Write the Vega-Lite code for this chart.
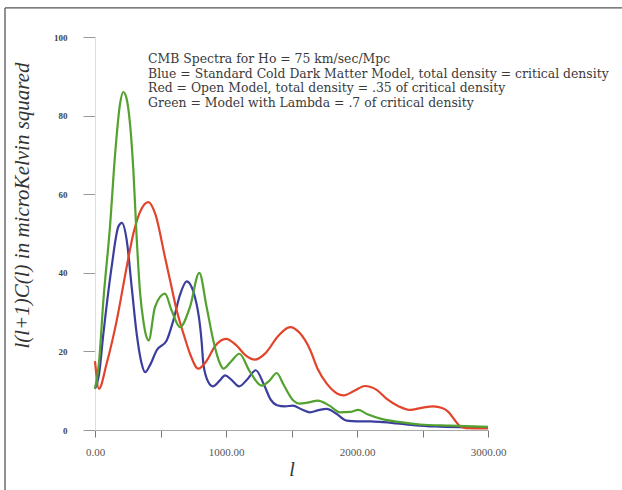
{
  "$schema": "https://vega.github.io/schema/vega-lite/v6.json",
  "width": 393,
  "height": 393,
  "autosize": {"type": "none"},
  "padding": {"left": 95, "top": 37, "right": 134, "bottom": 60},
  "background": "white",
  "config": {"view": {"stroke": null}, "font": "Liberation Serif"},
  "datasets": {
    "spectra": [
      {"l": 0, "v": 10.5, "model": "Blue"},
      {"l": 30, "v": 14, "model": "Blue"},
      {"l": 64, "v": 24.5, "model": "Blue"},
      {"l": 127, "v": 41.5, "model": "Blue"},
      {"l": 178, "v": 51.7, "model": "Blue"},
      {"l": 205, "v": 52.7, "model": "Blue"},
      {"l": 242, "v": 48.3, "model": "Blue"},
      {"l": 280, "v": 36.4, "model": "Blue"},
      {"l": 318, "v": 24.5, "model": "Blue"},
      {"l": 356, "v": 16.9, "model": "Blue"},
      {"l": 382, "v": 14.7, "model": "Blue"},
      {"l": 420, "v": 16.5, "model": "Blue"},
      {"l": 471, "v": 20.3, "model": "Blue"},
      {"l": 547, "v": 22.8, "model": "Blue"},
      {"l": 598, "v": 27.9, "model": "Blue"},
      {"l": 650, "v": 34.5, "model": "Blue"},
      {"l": 700, "v": 37.8, "model": "Blue"},
      {"l": 763, "v": 33.8, "model": "Blue"},
      {"l": 800, "v": 27, "model": "Blue"},
      {"l": 814, "v": 22.5, "model": "Blue"},
      {"l": 827, "v": 16.9, "model": "Blue"},
      {"l": 865, "v": 12.2, "model": "Blue"},
      {"l": 900, "v": 11.1, "model": "Blue"},
      {"l": 950, "v": 12.5, "model": "Blue"},
      {"l": 993, "v": 13.9, "model": "Blue"},
      {"l": 1040, "v": 12.8, "model": "Blue"},
      {"l": 1100, "v": 11.1, "model": "Blue"},
      {"l": 1160, "v": 12.8, "model": "Blue"},
      {"l": 1228, "v": 15.2, "model": "Blue"},
      {"l": 1290, "v": 11.5, "model": "Blue"},
      {"l": 1340, "v": 7.8, "model": "Blue"},
      {"l": 1390, "v": 6.3, "model": "Blue"},
      {"l": 1450, "v": 6, "model": "Blue"},
      {"l": 1510, "v": 6.2, "model": "Blue"},
      {"l": 1580, "v": 5.2, "model": "Blue"},
      {"l": 1641, "v": 4.5, "model": "Blue"},
      {"l": 1700, "v": 5, "model": "Blue"},
      {"l": 1769, "v": 5.4, "model": "Blue"},
      {"l": 1840, "v": 4.2, "model": "Blue"},
      {"l": 1921, "v": 2.4, "model": "Blue"},
      {"l": 2000, "v": 2.2, "model": "Blue"},
      {"l": 2100, "v": 2.2, "model": "Blue"},
      {"l": 2200, "v": 2.0, "model": "Blue"},
      {"l": 2300, "v": 1.7, "model": "Blue"},
      {"l": 2450, "v": 1.2, "model": "Blue"},
      {"l": 2600, "v": 0.9, "model": "Blue"},
      {"l": 2800, "v": 0.7, "model": "Blue"},
      {"l": 3000, "v": 0.6, "model": "Blue"},

      {"l": 0, "v": 17.5, "model": "Red"},
      {"l": 30, "v": 10.5, "model": "Red"},
      {"l": 89, "v": 16.9, "model": "Red"},
      {"l": 166, "v": 27.9, "model": "Red"},
      {"l": 242, "v": 41.5, "model": "Red"},
      {"l": 293, "v": 50, "model": "Red"},
      {"l": 344, "v": 55.5, "model": "Red"},
      {"l": 407, "v": 58, "model": "Red"},
      {"l": 460, "v": 55, "model": "Red"},
      {"l": 534, "v": 44, "model": "Red"},
      {"l": 580, "v": 37, "model": "Red"},
      {"l": 624, "v": 30.4, "model": "Red"},
      {"l": 680, "v": 24, "model": "Red"},
      {"l": 725, "v": 19.4, "model": "Red"},
      {"l": 789, "v": 15.6, "model": "Red"},
      {"l": 850, "v": 17.5, "model": "Red"},
      {"l": 920, "v": 21.5, "model": "Red"},
      {"l": 1000, "v": 23.2, "model": "Red"},
      {"l": 1080, "v": 21.5, "model": "Red"},
      {"l": 1150, "v": 19, "model": "Red"},
      {"l": 1221, "v": 17.9, "model": "Red"},
      {"l": 1300, "v": 19.5, "model": "Red"},
      {"l": 1400, "v": 24, "model": "Red"},
      {"l": 1489, "v": 26.2, "model": "Red"},
      {"l": 1560, "v": 24.8, "model": "Red"},
      {"l": 1641, "v": 20.5, "model": "Red"},
      {"l": 1700, "v": 15.5, "model": "Red"},
      {"l": 1769, "v": 11.8, "model": "Red"},
      {"l": 1830, "v": 9.7, "model": "Red"},
      {"l": 1896, "v": 8.8, "model": "Red"},
      {"l": 1980, "v": 10, "model": "Red"},
      {"l": 2060, "v": 11.2, "model": "Red"},
      {"l": 2150, "v": 10.2, "model": "Red"},
      {"l": 2227, "v": 7.9, "model": "Red"},
      {"l": 2320, "v": 6, "model": "Red"},
      {"l": 2405, "v": 5.1, "model": "Red"},
      {"l": 2500, "v": 5.7, "model": "Red"},
      {"l": 2583, "v": 6, "model": "Red"},
      {"l": 2650, "v": 5.6, "model": "Red"},
      {"l": 2700, "v": 4.5, "model": "Red"},
      {"l": 2740, "v": 2.8, "model": "Red"},
      {"l": 2786, "v": 1, "model": "Red"},
      {"l": 2830, "v": 0.5, "model": "Red"},
      {"l": 3000, "v": 0.4, "model": "Red"},

      {"l": 0, "v": 10.5, "model": "Green"},
      {"l": 30, "v": 17, "model": "Green"},
      {"l": 64, "v": 33, "model": "Green"},
      {"l": 115, "v": 52, "model": "Green"},
      {"l": 153, "v": 70, "model": "Green"},
      {"l": 191, "v": 83, "model": "Green"},
      {"l": 216, "v": 86, "model": "Green"},
      {"l": 240, "v": 84.5, "model": "Green"},
      {"l": 267, "v": 78, "model": "Green"},
      {"l": 293, "v": 66, "model": "Green"},
      {"l": 318, "v": 49, "model": "Green"},
      {"l": 344, "v": 35, "model": "Green"},
      {"l": 370, "v": 27.5, "model": "Green"},
      {"l": 395, "v": 23.5, "model": "Green"},
      {"l": 410, "v": 22.8, "model": "Green"},
      {"l": 458, "v": 31.3, "model": "Green"},
      {"l": 534, "v": 34.7, "model": "Green"},
      {"l": 585, "v": 30.4, "model": "Green"},
      {"l": 649, "v": 26.2, "model": "Green"},
      {"l": 725, "v": 31.3, "model": "Green"},
      {"l": 796, "v": 40, "model": "Green"},
      {"l": 852, "v": 31.3, "model": "Green"},
      {"l": 903, "v": 22.8, "model": "Green"},
      {"l": 954, "v": 16.9, "model": "Green"},
      {"l": 980, "v": 15.6, "model": "Green"},
      {"l": 1040, "v": 17.5, "model": "Green"},
      {"l": 1102, "v": 19.4, "model": "Green"},
      {"l": 1180, "v": 15, "model": "Green"},
      {"l": 1272, "v": 11.3, "model": "Green"},
      {"l": 1330, "v": 12.5, "model": "Green"},
      {"l": 1387, "v": 14.5, "model": "Green"},
      {"l": 1440, "v": 11.5, "model": "Green"},
      {"l": 1514, "v": 7.5, "model": "Green"},
      {"l": 1560, "v": 6.7, "model": "Green"},
      {"l": 1641, "v": 7.1, "model": "Green"},
      {"l": 1700, "v": 7.5, "model": "Green"},
      {"l": 1790, "v": 6.2, "model": "Green"},
      {"l": 1870, "v": 4.5, "model": "Green"},
      {"l": 1947, "v": 4.6, "model": "Green"},
      {"l": 2010, "v": 5.1, "model": "Green"},
      {"l": 2080, "v": 4, "model": "Green"},
      {"l": 2200, "v": 2.7, "model": "Green"},
      {"l": 2330, "v": 2, "model": "Green"},
      {"l": 2480, "v": 1.4, "model": "Green"},
      {"l": 2710, "v": 1.1, "model": "Green"},
      {"l": 3000, "v": 0.8, "model": "Green"}
    ],
    "one": [{}]
  },
  "layer": [
    {
      "data": {"name": "spectra"},
      "mark": {"type": "line", "interpolate": "monotone", "strokeWidth": 2.2},
      "encoding": {
        "x": {
          "field": "l",
          "type": "quantitative",
          "scale": {"domain": [0, 3000], "nice": false, "zero": false},
          "axis": {
            "title": "l",
            "titleFontStyle": "italic",
            "titleFontWeight": "normal",
            "titleFontSize": 20,
            "titleColor": "#333",
            "titlePadding": 2,
            "values": [0, 500, 1000, 1500, 2000, 2500, 3000],
            "labelExpr": "datum.value % 1000 === 0 ? format(datum.value, '.2f') : ''",
            "labelFlush": false,
            "labelFontSize": 11,
            "labelColor": "#555",
            "labelPadding": 9,
            "tickSize": 7,
            "tickColor": "#777",
            "domainColor": "#aaa",
            "grid": false
          }
        },
        "y": {
          "field": "v",
          "type": "quantitative",
          "scale": {"domain": [0, 100], "nice": false},
          "axis": {
            "title": "l(l+1)C(l) in microKelvin squared",
            "titleFontStyle": "italic",
            "titleFontWeight": "normal",
            "titleFontSize": 21,
            "titleColor": "#333",
            "titleX": -73,
            "titleY": 168,
            "titleBaseline": "middle",
            "titleAlign": "center",
            "values": [0, 10, 20, 30, 40, 50, 60, 70, 80, 90, 100],
            "labelExpr": "datum.value % 20 === 0 ? datum.label : ''",
            "labelFlush": false,
            "labelFontSize": 9,
            "labelFontWeight": "bold",
            "labelColor": "#444",
            "labelPadding": 16,
            "tickSize": {"condition": {"test": "datum.value % 20 === 0", "value": 12}, "value": 6},
            "tickColor": "#999",
            "domainColor": "#ddd",
            "grid": false
          }
        },
        "color": {
          "field": "model",
          "type": "nominal",
          "scale": {"domain": ["Blue", "Red", "Green"], "range": ["#3b3e9e", "#e2432b", "#53a12e"]},
          "legend": null
        },
        "order": {"field": "l", "type": "quantitative"}
      }
    },
    {
      "data": {"name": "one"},
      "mark": {"type": "text", "align": "left", "baseline": "alphabetic", "fontSize": 12.4, "lineHeight": 14.7, "color": "#3a3a3a", "font": "DejaVu Serif"},
      "encoding": {
        "x": {"datum": 405},
        "y": {"datum": 93.4},
        "text": {"value": [
          "CMB Spectra for Ho = 75 km/sec/Mpc",
          "Blue = Standard Cold Dark Matter Model, total density = critical density",
          "Red = Open Model, total density = .35 of critical density",
          "Green = Model with Lambda = .7 of critical density"
        ]}
      }
    },
    {
      "data": {"name": "one"},
      "mark": {"type": "rule", "color": "#555", "strokeWidth": 1.3},
      "encoding": {
        "x": {"datum": -687},
        "y": {"datum": 107.4},
        "y2": {"datum": -20}
      }
    },
    {
      "data": {"name": "one"},
      "mark": {"type": "rule", "color": "#555", "strokeWidth": 1.3},
      "encoding": {
        "x": {"datum": -687},
        "x2": {"datum": 4100},
        "y": {"datum": 107.4}
      }
    }
  ]
}
